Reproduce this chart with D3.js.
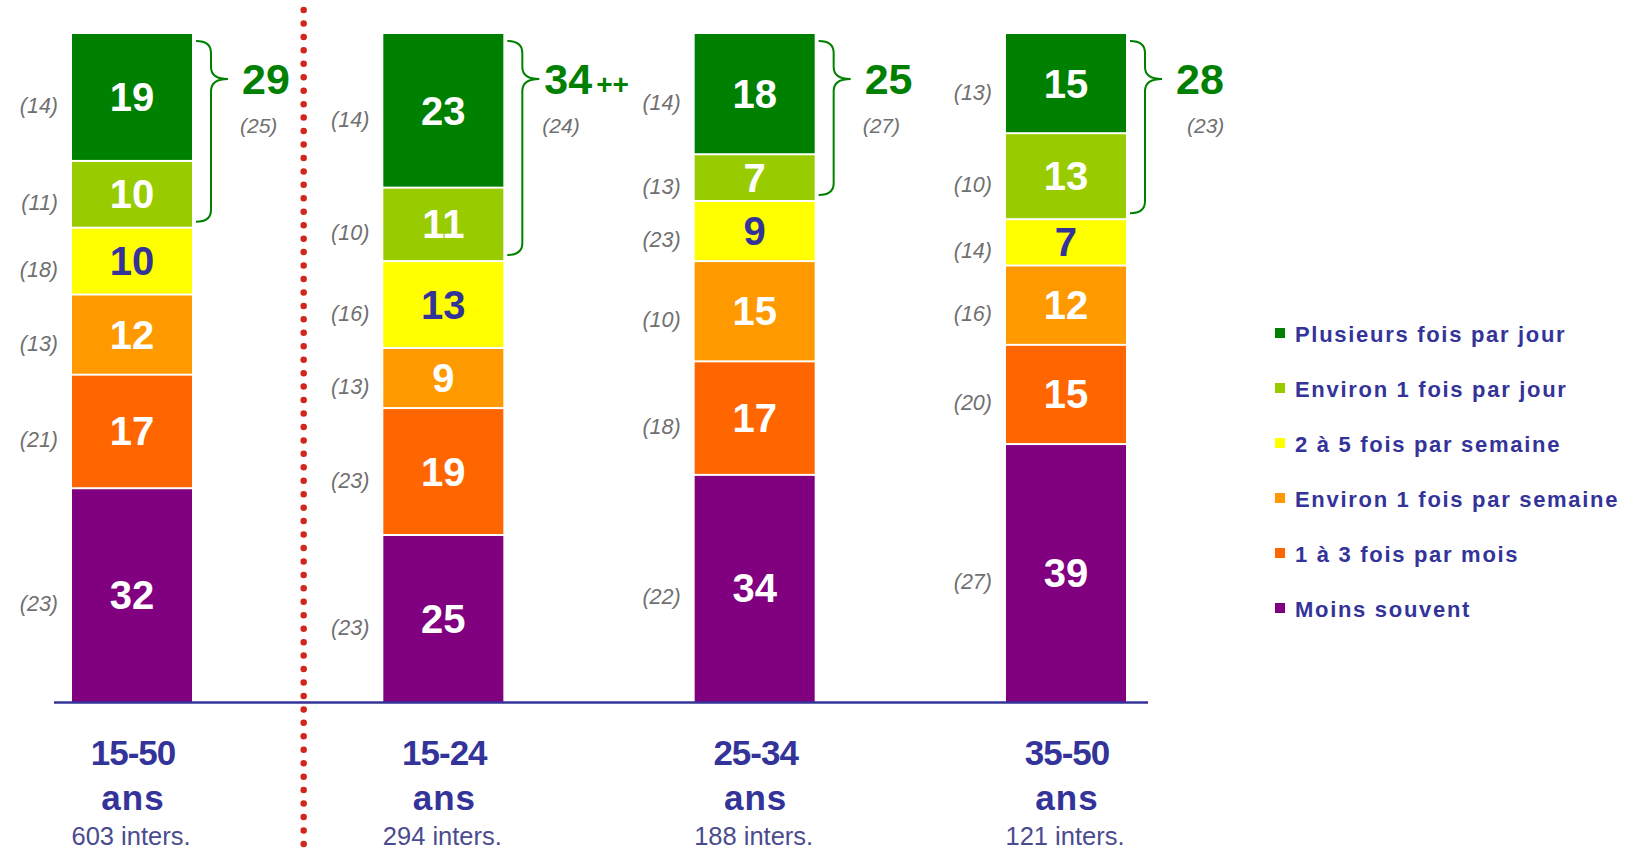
<!DOCTYPE html>
<html>
<head>
<meta charset="utf-8">
<script src="https://cdn.jsdelivr.net/npm/d3@7"></script>
<style>
  html, body { margin: 0; padding: 0; background: #ffffff; }
  svg { display: block; font-family: "Liberation Sans", Arial, Helvetica, sans-serif; }
</style>
</head>
<body>
<svg id="chart" width="1640" height="853"></svg>
<script>
// ---------- DATA ----------
const categories = ["15-50", "15-24", "25-34", "35-50"];
const categorySub = ["ans", "ans", "ans", "ans"];
const interviews = ["603 inters.", "294 inters.", "188 inters.", "121 inters."];

const seriesNames = [
  "Plusieurs fois par jour",
  "Environ 1 fois par jour",
  "2 à 5 fois par semaine",
  "Environ 1 fois par semaine",
  "1 à 3 fois par mois",
  "Moins souvent"
];
const seriesColors = ["#008000", "#99cc00", "#ffff00", "#ff9900", "#ff6600", "#800080"];
const labelColors  = ["#ffffff", "#ffffff", "#333399", "#ffffff", "#ffffff", "#ffffff"];

// current values (%), one array per series, one value per category
const plusieursParJour   = [19, 23, 18, 15];
const environParJour     = [10, 11, 7, 13];
const deuxCinqSemaine    = [10, 13, 9, 7];
const environSemaine     = [12, 9, 15, 12];
const unTroisMois        = [17, 19, 17, 15];
const moinsSouvent       = [32, 25, 34, 39];

// previous wave values shown in parentheses
const plusieursParJourPrev = [14, 14, 14, 13];
const environParJourPrev   = [11, 10, 13, 10];
const deuxCinqSemainePrev  = [18, 16, 23, 14];
const environSemainePrev   = [13, 13, 10, 16];
const unTroisMoisPrev      = [21, 23, 18, 20];
const moinsSouventPrev     = [23, 23, 22, 27];

// daily total (first two series) with previous wave and significance
const dailyTotal     = [29, 34, 25, 28];
const dailyTotalPrev = [25, 24, 27, 23];
const dailySignif    = ["", "++", "", ""];

const seriesValues = [plusieursParJour, environParJour, deuxCinqSemaine, environSemaine, unTroisMois, moinsSouvent];
const seriesPrev   = [plusieursParJourPrev, environParJourPrev, deuxCinqSemainePrev, environSemainePrev, unTroisMoisPrev, moinsSouventPrev];

// ---------- LAYOUT ----------
const svg = d3.select("#chart");
const BLUE = "#333399";
const GREEN = "#008000";
const GREY = "#707070";

const x = d3.scaleBand()
  .domain(categories)
  .range([72, 1126])
  .paddingInner(1 - 120 / 311.3)
  .paddingOuter(0);

const y = d3.scaleLinear().domain([0, 100]).range([702, 34]);

// stacked (100%) data
const stacks = categories.map((c, ci) => {
  const total = d3.sum(seriesValues, s => s[ci]);
  let cum = 0;
  return seriesValues.map((s, si) => {
    const v = s[ci];
    const top = 100 - cum / total * 100;
    cum += v;
    const bottom = 100 - cum / total * 100;
    return { cat: c, ci, si, value: v, prev: seriesPrev[si][ci], y0: bottom, y1: top };
  });
});

// red dotted separator
const sepX = (x("15-50") + x.bandwidth() + x("15-24")) / 2 + 16;
svg.append("line")
  .attr("x1", sepX).attr("x2", sepX)
  .attr("y1", 10).attr("y2", 853)
  .attr("stroke", "#d0261c")
  .attr("stroke-width", 6.5)
  .attr("stroke-linecap", "round")
  .attr("stroke-dasharray", "0 13.45");

// bars
const gBars = svg.append("g");
stacks.forEach(stack => {
  const g = gBars.append("g");
  g.selectAll("rect").data(stack).join("rect")
    .attr("x", d => x(d.cat))
    .attr("width", x.bandwidth())
    .attr("y", d => y(d.y1) + (d.si === 0 ? 0 : 1))
    .attr("height", d => y(d.y0) - y(d.y1) - (d.si === 0 ? 1 : 2) + (d.si === 5 ? 1 : 0))
    .attr("fill", d => seriesColors[d.si]);

  // values inside
  g.selectAll("text.val").data(stack).join("text")
    .attr("class", "val")
    .attr("x", d => x(d.cat) + x.bandwidth() / 2)
    .attr("y", d => (y(d.y0) + y(d.y1)) / 2 + 14)
    .attr("text-anchor", "middle")
    .attr("font-size", 40)
    .attr("font-weight", "bold")
    .attr("fill", d => labelColors[d.si])
    .text(d => d.value);

  // previous values on the left
  g.selectAll("text.prev").data(stack).join("text")
    .attr("class", "prev")
    .attr("x", d => x(d.cat) - 14)
    .attr("y", d => (y(d.y0) + y(d.y1)) / 2 + 16)
    .attr("text-anchor", "end")
    .attr("font-size", 21.5)
    .attr("font-style", "italic")
    .attr("fill", GREY)
    .text(d => "(" + d.prev + ")");
});

// braces + daily totals
const tipY = 79;
stacks.forEach((stack, ci) => {
  const x0 = x(categories[ci]) + x.bandwidth() + 4;
  const xm = x0 + 15, xt = x0 + 32, r = 12;
  const top = y(stack[0].y1) + 7;
  const bottom = y(stack[1].y0) - 6;
  const p = `M${x0},${top} Q${xm},${top} ${xm},${top + r} L${xm},${tipY - r} Q${xm},${tipY} ${xt},${tipY} Q${xm},${tipY} ${xm},${tipY + r} L${xm},${bottom - r} Q${xm},${bottom} ${x0},${bottom}`;
  svg.append("path").attr("d", p)
    .attr("fill", "none").attr("stroke", GREEN).attr("stroke-width", 2);

  const tx = xt + (dailySignif[ci] ? 5 : 14);
  const t = svg.append("text")
    .attr("x", tx).attr("y", tipY + 15)
    .attr("font-size", 43).attr("font-weight", "bold").attr("fill", GREEN);
  t.append("tspan").text(dailyTotal[ci]);
  if (dailySignif[ci]) {
    t.append("tspan").attr("font-size", 28).attr("dx", 4).text(dailySignif[ci]);
  }
  svg.append("text")
    .attr("x", tx - 2 + (ci === 3 ? 13 : 0)).attr("y", 133)
    .attr("font-size", 21).attr("font-style", "italic").attr("fill", GREY)
    .text("(" + dailyTotalPrev[ci] + ")");
});

// baseline axis
svg.append("line")
  .attr("x1", 54).attr("x2", 1148)
  .attr("y1", y(0) + 0.5).attr("y2", y(0) + 0.5)
  .attr("stroke", BLUE).attr("stroke-width", 2.5);

// category labels
const gCat = svg.append("g");
categories.forEach((c, ci) => {
  const cx = x(c) + x.bandwidth() / 2 + 1;
  gCat.append("text").attr("x", cx).attr("y", 765)
    .attr("text-anchor", "middle").attr("font-size", 35).attr("font-weight", "bold")
    .attr("fill", BLUE).attr("letter-spacing", -1).text(c);
  gCat.append("text").attr("x", cx).attr("y", 810)
    .attr("text-anchor", "middle").attr("font-size", 35).attr("font-weight", "bold")
    .attr("fill", BLUE).attr("letter-spacing", 1).text(categorySub[ci]);
  gCat.append("text").attr("x", cx - 2).attr("y", 845)
    .attr("text-anchor", "middle").attr("font-size", 25.5)
    .attr("fill", "#4b4b8f").text(interviews[ci]);
});

// legend
const legend = svg.append("g").attr("transform", "translate(1275,333)");
const rows = legend.selectAll("g").data(seriesNames).join("g")
  .attr("transform", (d, i) => `translate(0,${i * 55})`);
rows.append("rect").attr("x", 0).attr("y", -5).attr("width", 10).attr("height", 10)
  .attr("fill", (d, i) => seriesColors[i]);
rows.append("text").attr("x", 20).attr("y", 9)
  .attr("font-size", 22).attr("font-weight", "bold").attr("letter-spacing", 1.7)
  .attr("fill", BLUE).text(d => d);
</script>
</body>
</html>
